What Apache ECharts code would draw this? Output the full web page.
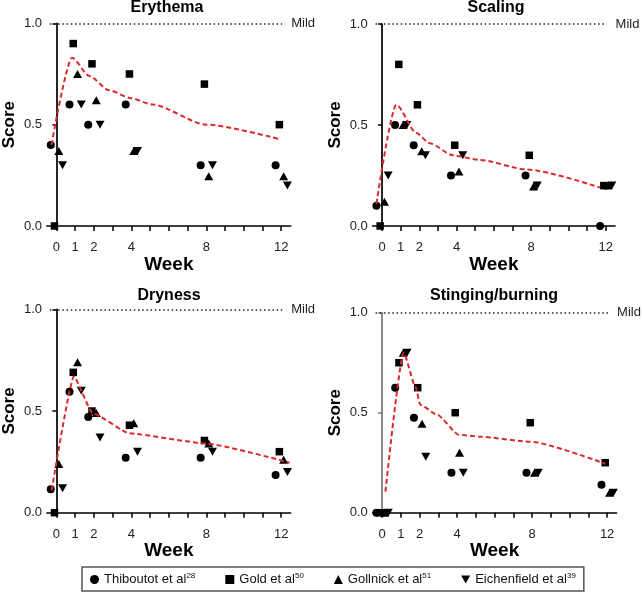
<!DOCTYPE html>
<html><head><meta charset="utf-8">
<script src="https://cdn.jsdelivr.net/npm/echarts@6/dist/echarts.min.js"></script>
<style>html,body{margin:0;padding:0;background:#fff}#c{width:643px;height:595px}</style>
</head><body><div id="c"></div>
<script>
// ---------- data ----------
const weeks = [0, 1, 2, 4, 8, 12];
const tickWeeks = [0, 1, 2, 3, 4, 5, 6, 7, 8, 9, 10, 11, 12];
const labelWeeks = [0, 1, 2, 4, 8, 12];
const yTickValues = [0, 0.5, 1.0];
const panelTitles = ['Erythema', 'Scaling', 'Dryness', 'Stinging/burning'];
const studies = ['Thiboutot et al', 'Gold et al', 'Gollnick et al', 'Eichenfield et al'];
const studyRefs = ['28', '50', '51', '39'];
const mildLevel = 1.0;
const mildLabel = 'Mild';

const erythemaThiboutot  = [0.40, 0.60, 0.50, 0.60, 0.30, 0.30];
const erythemaGold       = [0.00, 0.90, 0.80, 0.75, 0.70, 0.50];
const erythemaGollnick   = [0.37, 0.75, 0.62, 0.37, 0.245, 0.245];
const erythemaEichenfield= [0.30, 0.60, 0.50, 0.37, 0.30, 0.20];
const erythemaMeanWeeks  = [-0.26, 0.84, 1.76, 2.8, 4, 5.1, 8, 11.85];
const erythemaMeanValues = [0.40, 0.83, 0.74, 0.67, 0.63, 0.60, 0.50, 0.43];

const scalingThiboutot   = [0.10, 0.50, 0.40, 0.25, 0.25, 0.00];
const scalingGold        = [0.00, 0.80, 0.60, 0.40, 0.35, 0.20];
const scalingGollnick    = [0.12, 0.50, 0.37, 0.27, 0.195, 0.20];
const scalingEichenfield = [0.25, 0.50, 0.35, 0.35, 0.20, 0.20];
const scalingMeanWeeks   = [-0.3, 0.77, 1.84, 2.56, 3.8, 5.24, 7.75, 11.7];
const scalingMeanValues  = [0.11, 0.60, 0.46, 0.41, 0.35, 0.327, 0.28, 0.19];

const drynessThiboutot   = [0.115, 0.595, 0.47, 0.27, 0.27, 0.185];
const drynessGold        = [0.00, 0.69, 0.50, 0.43, 0.355, 0.30];
const drynessGollnick    = [0.24, 0.74, 0.49, 0.44, 0.34, 0.26];
const drynessEichenfield = [0.12, 0.60, 0.37, 0.30, 0.30, 0.20];
const drynessMeanWeeks   = [-0.25, 0.93, 1.93, 3.9, 8, 12.45];
const drynessMeanValues  = [0.11, 0.67, 0.49, 0.39, 0.34, 0.246];

const stingingThiboutot  = [0.00, 0.625, 0.475, 0.20, 0.20, 0.14];
const stingingGold       = [0.00, 0.75, 0.625, 0.50, 0.45, 0.25];
const stingingGollnick   = [0.00, 0.80, 0.445, 0.30, 0.20, 0.10];
const stingingEichenfield= [0.00, 0.80, 0.28, 0.20, 0.20, 0.10];
const stingingMeanWeeks  = [0.18, 1.15, 1.78, 2.04, 2.93, 4.09, 5.2, 7.9, 11.9];
const stingingMeanValues = [0.105, 0.80, 0.63, 0.54, 0.49, 0.39, 0.38, 0.355, 0.245];

// ---------- layout / style ----------
const FONT = '"Liberation Sans", Arial, Helvetica, sans-serif';
const panels = [
  { studies: [erythemaThiboutot, erythemaGold, erythemaGollnick, erythemaEichenfield], mw: erythemaMeanWeeks, mv: erythemaMeanValues,
    grid: { left: 44, top: 23.3, width: 246.6, height: 202.7 }, title: [167, 8], smooth: 0.25, yAxisColor: '#000' },
  { studies: [scalingThiboutot, scalingGold, scalingGollnick, scalingEichenfield], mw: scalingMeanWeeks, mv: scalingMeanValues,
    grid: { left: 372.7, top: 24, width: 242.3, height: 202 }, title: [496, 8], smooth: 0.25, yAxisColor: '#000' },
  { studies: [drynessThiboutot, drynessGold, drynessGollnick, drynessEichenfield], mw: drynessMeanWeeks, mv: drynessMeanValues,
    grid: { left: 44, top: 309.3, width: 246.6, height: 203.4 }, title: [169, 296], smooth: 0.15, yAxisColor: '#000' },
  { studies: [stingingThiboutot, stingingGold, stingingGollnick, stingingEichenfield], mw: stingingMeanWeeks, mv: stingingMeanValues,
    grid: { left: 372.7, top: 312.7, width: 243.8, height: 200 }, title: [494, 296], smooth: 0.2, yAxisColor: '#777' }
];
const symbols = ['circle', 'rect', 'triangle', 'path://M0,0 L10,0 L5,9 Z'];
const symbolSizes = [8, 7.5, [9, 8], [9, 8]];
const jitter = [-0.3, -0.1, 0.13, 0.33];

const grids = [], xAxes = [], yAxes = [], series = [], graphics = [];
panels.forEach((p, i) => {
  grids.push(Object.assign({ containLabel: false }, p.grid));
  xAxes.push({
    type: 'value', gridIndex: i, min: -0.5, max: 12.5,
    name: 'Week', nameLocation: 'middle', nameGap: 22,
    nameTextStyle: { fontFamily: FONT, fontWeight: 'bold', fontSize: 19, color: '#000' },
    axisLine: { show: true, onZero: false, lineStyle: { color: '#000', width: 1.7 } },
    axisTick: { show: true, customValues: tickWeeks, length: 5, lineStyle: { color: '#000', width: 1.5 } },
    axisLabel: { customValues: labelWeeks, fontFamily: FONT, fontSize: 13, color: '#222', margin: 15 },
    splitLine: { show: false }
  });
  yAxes.push({
    type: 'value', gridIndex: i, min: 0, max: 1,
    name: 'Score', nameLocation: 'middle', nameGap: 29,
    nameTextStyle: { fontFamily: FONT, fontWeight: 'bold', fontSize: 17, color: '#000' },
    axisLine: { show: true, lineStyle: { color: p.yAxisColor, width: 1.7 } },
    axisTick: { show: true, customValues: yTickValues, length: 4, lineStyle: { color: p.yAxisColor, width: 1.5 } },
    axisLabel: { customValues: yTickValues, fontFamily: FONT, fontSize: 13, color: '#222', margin: 5,
      formatter: v => v.toFixed(1) },
    splitLine: { show: false }
  });
  p.studies.forEach((vals, s) => {
    series.push({
      type: 'scatter', name: studies[s], xAxisIndex: i, yAxisIndex: i,
      symbol: symbols[s], symbolSize: symbolSizes[s],
      itemStyle: { color: '#000', opacity: 1 }, z: 3,
      data: vals.map((v, k) => [weeks[k] + jitter[s], v])
    });
  });
  series.push({
    type: 'line', name: 'mean', xAxisIndex: i, yAxisIndex: i,
    data: p.mw.map((w, k) => [w, p.mv[k]]),
    smooth: p.smooth, smoothMonotone: 'x', showSymbol: false, symbol: 'none', z: 4,
    lineStyle: { color: '#dc2a2a', width: 2, type: [5, 3] },
    markLine: {
      silent: true, symbol: ['none', 'none'],
      lineStyle: { color: '#222', width: 1.6, type: [1.5, 2.7] },
      label: { show: true, position: 'end', formatter: mildLabel, distance: 9,
        fontFamily: FONT, fontSize: 13, color: '#222' },
      data: [[{ coord: [-0.35, mildLevel] }, { coord: [12.05, mildLevel] }]]
    }
  });
  graphics.push({
    type: 'text', x: p.title[0], y: p.title[1],
    style: { text: panelTitles[i], fontFamily: FONT, fontWeight: 'bold', fontSize: 16,
      fill: '#000', textAlign: 'center', textVerticalAlign: 'middle' }
  });
});

const chart = echarts.init(document.getElementById('c'), null, { renderer: 'canvas' });
chart.setOption({
  animation: false,
  backgroundColor: '#fff',
  grid: grids, xAxis: xAxes, yAxis: yAxes, series: series, graphic: graphics,
  legend: {
    data: studies, left: 82, top: 567, orient: 'horizontal',
    itemGap: 30, itemWidth: 9, itemHeight: 9,
    padding: [5, 8, 5, 8], borderColor: '#555', borderWidth: 1.5,
    selectedMode: false,
    itemStyle: { opacity: 1 },
    formatter: name => '{a|' + name + '}{s|' + studyRefs[studies.indexOf(name)] + '}',
    textStyle: {
      fontFamily: FONT, color: '#111',
      rich: {
        a: { fontFamily: FONT, fontSize: 13, color: '#111', lineHeight: 15 },
        s: { fontFamily: FONT, fontSize: 8, color: '#111', verticalAlign: 'top', lineHeight: 15 }
      }
    }
  }
});
</script></body></html>
